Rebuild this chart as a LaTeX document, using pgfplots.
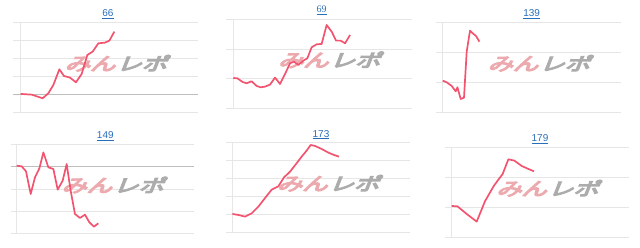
\documentclass[border=0pt]{standalone}
\usepackage{fontspec}
\setmainfont{Liberation Sans}
\newfontfamily\cjk{Noto Sans CJK JP}[FakeBold=6]
\newfontfamily\serifnum{Liberation Serif}
\usepackage{pgfplots}
\pgfplotsset{compat=1.18}
\definecolor{linec}{RGB}{242,84,112}
\definecolor{gridc}{RGB}{230,230,230}
\definecolor{darkgrid}{RGB}{190,190,190}
\definecolor{wmpink}{RGB}{236,170,174}
\definecolor{wmgray}{RGB}{172,172,172}
\definecolor{titlec}{RGB}{40,110,185}
\pgfplotsset{
  mini/.style={scale only axis, anchor=north west,
    axis line style={draw=none}, tick style={draw=none},
    xticklabels={}, yticklabels={}, xtick={0},
    xmajorgrids, ymajorgrids,
    major grid style={gridc, line width=0.9pt}},
  rline/.style={draw=linec, line width=1.7pt, line join=round, mark=none},
  dark/.style={extra y ticks={#1}, extra y tick labels={},
    extra y tick style={major grid style={darkgrid, line width=0.9pt}}}
}
\newcommand{\wm}{\node[xscale=1.4, xslant=0.28, inner sep=0pt, font=\cjk\fontsize{18}{18}\selectfont] at (rel axis cs:0.57,0.545) {\textcolor{wmpink}{みん}\hspace{1pt}\textcolor{wmgray}{レポ}};}
\begin{document}
\begin{tikzpicture}
\useasboundingbox (0,0) rectangle (640pt,248pt);
% chart 66
\begin{axis}[mini, dark=1, at={(12.7pt,225.7pt)}, width=185.6pt, height=90pt,
  xmin=-8, xmax=177.7, ymin=0, ymax=5, ytick={0,...,5}]
\wm
\addplot[rline] coordinates {(0,1.019) (11,0.981) (22,0.778) (27.7,1.06) (32.7,1.519) (38.7,2.389) (43.3,2.019) (49.3,1.926) (55.3,1.667) (61,2.130) (66.7,3.185) (72,3.370) (77.7,3.833) (84.3,3.870) (88.7,3.981) (93.7,4.481)};
\end{axis}
% chart 69
\begin{axis}[mini, at={(226pt,228.7pt)}, width=185.7pt, height=89pt,
  xmin=-7.3, xmax=178.3, ymin=0, ymax=3, ytick={0,...,3}]
\wm
\addplot[rline] coordinates {(0,1.022) (4,1.011) (9.3,0.888) (13.3,0.843) (18.3,0.910) (23.3,0.753) (27.3,0.708) (31.7,0.730) (36.7,0.798) (41.7,1.034) (46.7,0.820) (51.7,1.157) (56.7,1.517) (60.7,1.573) (65,1.461) (70,1.607) (74,1.685) (78.3,2.056) (83.3,2.157) (88.3,2.169) (93.3,2.809) (98.3,2.584) (102.7,2.281) (107.3,2.281) (111.7,2.191) (116.7,2.472)};
\end{axis}
% chart 139
\begin{axis}[mini, at={(436pt,225.7pt)}, width=185pt, height=90pt,
  xmin=-6.7, xmax=178.3, ymin=0, ymax=3, ytick={0,...,3}]
\wm
\addplot[rline] coordinates {(0,1.056) (4,1.0) (9,0.878) (13,0.700) (14.7,0.833) (18,0.444) (21.3,0.489) (24,2.022) (27.3,2.722) (30,2.633) (33.3,2.544) (36.7,2.356)};
\end{axis}
% chart 149
\begin{axis}[mini, dark=3, at={(10.7pt,103.3pt)}, width=183.6pt, height=88.6pt,
  xmin=-6, xmax=177.7, ymin=0, ymax=4, ytick={0,...,4}]
\wm
\addplot[rline] coordinates {(0,3.053) (5,3.023) (9.3,2.797) (14,1.774) (18.3,2.526) (22.7,2.932) (26.7,3.654) (31.7,2.977) (36.7,2.902) (41,1.970) (46,2.376) (50,3.128) (54,1.925) (58.3,0.872) (63.3,0.692) (68.3,0.842) (72.7,0.496) (77.3,0.301) (81.7,0.451)};
\end{axis}
% chart 173
\begin{axis}[mini, at={(225.7pt,105.7pt)}, width=184.3pt, height=90pt,
  xmin=-6.7, xmax=177.7, ymin=0, ymax=5, ytick={0,...,5}]
\wm
\addplot[rline] coordinates {(0,1.019) (6,0.963) (12.7,0.870) (19.3,1.056) (26,1.426) (32.7,1.907) (39.3,2.370) (46,2.556) (51.7,3.056) (57.7,3.370) (63.7,3.796) (69.3,4.204) (74.3,4.537) (78.3,4.852) (82.7,4.796) (89.3,4.630) (96,4.426) (101.7,4.296) (106.7,4.204)};
\end{axis}
% chart 179
\begin{axis}[mini, at={(445pt,100.7pt)}, width=184.3pt, height=90pt,
  xmin=-6.7, xmax=177.7, ymin=0, ymax=3, ytick={0,...,3}]
\wm
\addplot[rline] coordinates {(0,1.044) (5.7,1.033) (15,0.778) (25,0.522) (33.3,1.2) (42.3,1.722) (51,2.111) (56.7,2.6) (62.7,2.556) (70,2.378) (76.7,2.278) (82.3,2.2)};
\end{axis}
% titles
\begin{scope}[every node/.style={text=titlec, font=\fontsize{10}{12}\selectfont, inner sep=0pt}]
\node at (108pt,234pt) {\underline{66}};
\node at (321.7pt,237.3pt) {\serifnum\underline{69}};
\node at (531.7pt,234pt) {\underline{139}};
\node at (105.3pt,112pt) {\underline{149}};
\node at (321pt,113.3pt) {\underline{173}};
\node at (540pt,109pt) {\underline{179}};
\end{scope}
\end{tikzpicture}
\end{document}
